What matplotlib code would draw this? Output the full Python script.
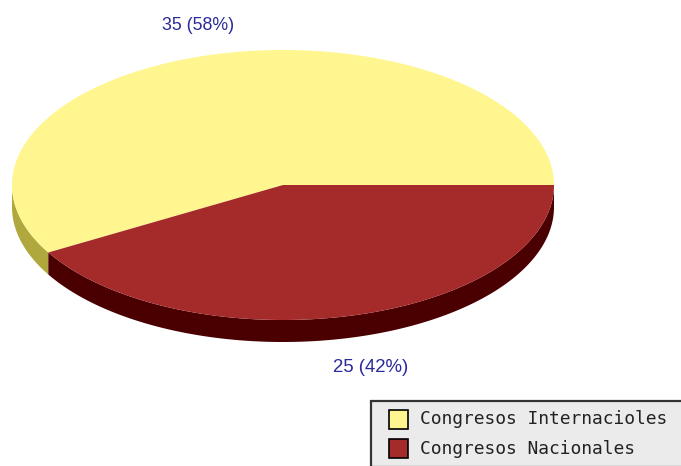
import numpy as np
import matplotlib
matplotlib.use("Agg")
import matplotlib.pyplot as plt
from matplotlib.patches import Rectangle

labels = ["Congresos Internacioles", "Congresos Nacionales"]
values = [35, 25]
colors = ["#fff68f", "#a52a2a"]
side_colors = ["#b0a83c", "#4a0000"]
value_labels = ["35 (58%)", "25 (42%)"]

W, H = 681, 466
cx, cy = 283, 185
rx, ry = 271, 135
depth = 22

fig = plt.figure(figsize=(W / 100, H / 100), dpi=100)
ax = fig.add_axes([0, 0, 1, 1])
ax.set_xlim(0, W)
ax.set_ylim(H, 0)
ax.axis("off")

total = sum(values)
# first slice runs counter-clockwise from 3 o'clock
angles = [0]
for v in values:
    angles.append(angles[-1] + 360.0 * v / total)


def arc_points(a0, a1, dy=0):
    t = np.radians(np.linspace(a0, a1, 200))
    return cx + rx * np.cos(t), cy + dy - ry * np.sin(t)


# the side wall, only on the front half of the ellipse
for i in range(len(values)):
    a0 = max(angles[i], 180)
    a1 = min(angles[i + 1], 360)
    if a1 <= a0:
        continue
    x, y = arc_points(a0, a1)
    xb, yb = arc_points(a1, a0, depth)
    ax.fill(np.r_[x, xb], np.r_[y, yb], color=side_colors[i], lw=0)

# top of the pie
for i in range(len(values)):
    x, y = arc_points(angles[i], angles[i + 1])
    ax.fill(np.r_[cx, x], np.r_[cy, y], color=colors[i], lw=0)

ax.text(198, 25, value_labels[0], color="#2a2a9a", fontsize=12.8, ha="center", va="center", family="Liberation Sans")
ax.text(371, 367, value_labels[1], color="#2a2a9a", fontsize=13.4, ha="center", va="center", family="Liberation Sans")

# legend box
ax.add_patch(Rectangle((371, 401), 312, 66, fc="#ebebeb", ec="#333333", lw=1.6, clip_on=False))
swatch_y = [419, 448]
text_y = [419, 449]
for i, name in enumerate(labels):
    ax.add_patch(Rectangle((389, swatch_y[i] - 9.5), 19, 19, fc=colors[i], ec="black", lw=1.2))
    ax.text(420, text_y[i], name, fontsize=12.9, va="center", family="DejaVu Sans Mono", color="#222222")

fig.savefig("out.png", dpi=100)
